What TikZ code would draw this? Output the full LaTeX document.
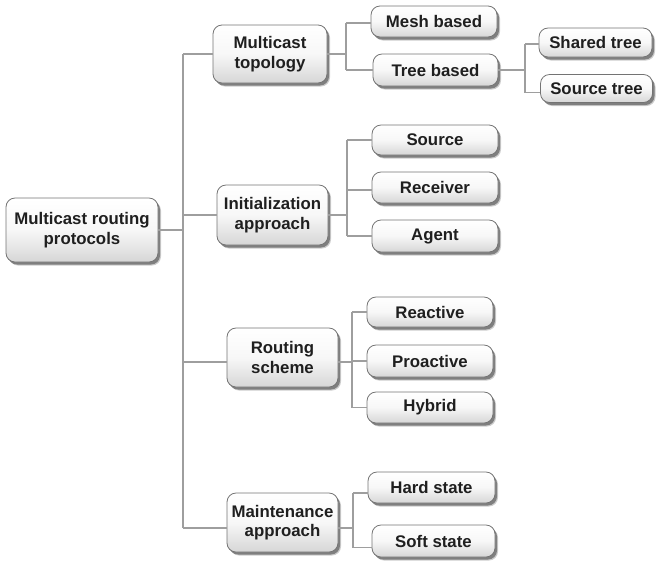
\documentclass[tikz,border=0pt]{standalone}
\usepackage{fontspec}
\setmainfont{Liberation Sans}
\usetikzlibrary{shadows,calc}
\begin{document}
\begin{tikzpicture}[x=1pt,y=-1pt,
  box/.style={draw=black!55, line width=0.8pt, rounded corners=9pt,
    top color=white, bottom color=black!16, middle color=black!3, align=center, inner sep=0pt,
    text=black!88,
    font=\bfseries\fontsize{16.8}{19.5}\selectfont,
    general shadow={shadow xshift=3pt, shadow yshift=-3.5pt, fill=black!40, opacity=0.5},
    drop shadow={shadow xshift=2pt, shadow yshift=-2.5pt, fill=black!70, opacity=0.6}},
  conn/.style={draw=black!38, line width=1.6pt}]
\useasboundingbox (0,0) rectangle (658,566);
% nodes
\node[box, minimum width=152pt, minimum height=64pt] (root) at (82,230) {Multicast routing\\protocols};
\node[box, minimum width=114pt, minimum height=58pt] (topo) at (270,54) {Multicast\\topology};
\node[box, minimum width=111pt, minimum height=60pt] (init) at (272.5,215) {Initialization\\approach};
\node[box, minimum width=111pt, minimum height=59pt] (rout) at (282.5,357.5) {Routing\\scheme};
\node[box, minimum width=111pt, minimum height=59pt] (maint) at (282.5,522.5) {Maintenance\\approach};
\node[box, minimum width=126pt, minimum height=31pt] (mesh) at (434,21.5) {Mesh based};
\node[box, minimum width=125pt, minimum height=32pt] (tree) at (435.5,70) {Tree based};
\node[box, minimum width=113pt, minimum height=29pt] (shared) at (595.5,42.5) {Shared tree};
\node[box, minimum width=112pt, minimum height=28pt] (srctree) at (596.5,88.5) {Source tree};
\node[box, minimum width=126pt, minimum height=30pt] (source) at (435,140) {Source};
\node[box, minimum width=126pt, minimum height=31pt] (receiver) at (435,187.5) {Receiver};
\node[box, minimum width=126pt, minimum height=32pt] (agent) at (435,236) {Agent};
\node[box, minimum width=126pt, minimum height=30pt] (reactive) at (430,312) {Reactive};
\node[box, minimum width=126pt, minimum height=32pt] (proactive) at (430,361) {Proactive};
\node[box, minimum width=126pt, minimum height=31pt] (hybrid) at (430,407.5) {Hybrid};
\node[box, minimum width=127pt, minimum height=31pt] (hard) at (431.5,487.5) {Hard state};
\node[box, minimum width=123pt, minimum height=32pt] (soft) at (433.5,541) {Soft state};
% connection points
\coordinate (T) at (183,0);
\coordinate (T1) at (346,0);
\coordinate (T2) at (525,0);
\coordinate (T3) at (347,0);
\coordinate (T4) at (352,0);
\coordinate (T5) at (353,0);
\coordinate (rw) at ($(rout.west)+(0,4.5)$);
\coordinate (mw) at ($(maint.west)+(0,5.5)$);
\coordinate (re) at ($(rout.east)+(0,4.5)$);
\coordinate (me) at ($(maint.east)+(0,5.5)$);
\coordinate (hw) at ($(hard.west)+(0,5.5)$);
\coordinate (sw) at ($(soft.west)+(0,6.5)$);
\coordinate (stw) at ($(srctree.west)+(0,4)$);
\coordinate (shw) at ($(shared.west)+(0,1.5)$);
\coordinate (mbw) at ($(mesh.west)+(0,1.5)$);
\coordinate (rcw) at ($(receiver.west)+(0,2.5)$);
% level 1
\draw[conn] (root.east) -- (T |- root.east);
\draw[conn] (T |- topo.west) -- (T |- mw);
\draw[conn] (T |- topo.west) -- (topo.west);
\draw[conn] (T |- init.west) -- (init.west);
\draw[conn] (T |- rw) -- (rw);
\draw[conn] (T |- mw) -- (mw);
% topology
\draw[conn] (topo.east) -- (T1 |- topo.east);
\draw[conn] (T1 |- mbw) -- (T1 |- tree.west);
\draw[conn] (T1 |- mbw) -- (mbw);
\draw[conn] (T1 |- tree.west) -- (tree.west);
\draw[conn] (tree.east) -- (T2 |- tree.east);
\draw[conn] (T2 |- shw) -- (T2 |- stw);
\draw[conn] (T2 |- shw) -- (shw);
\draw[conn] (T2 |- stw) -- (stw);
% initialization
\draw[conn] (init.east) -- (T3 |- init.east);
\draw[conn] (T3 |- source.west) -- (T3 |- agent.west);
\draw[conn] (T3 |- source.west) -- (source.west);
\draw[conn] (T3 |- rcw) -- (rcw);
\draw[conn] (T3 |- agent.west) -- (agent.west);
% routing
\draw[conn] (re) -- (T4 |- re);
\draw[conn] (T4 |- reactive.west) -- (T4 |- hybrid.west);
\draw[conn] (T4 |- reactive.west) -- (reactive.west);
\draw[conn] (T4 |- proactive.west) -- (proactive.west);
\draw[conn] (T4 |- hybrid.west) -- (hybrid.west);
% maintenance
\draw[conn] (me) -- (T5 |- me);
\draw[conn] (T5 |- hw) -- (T5 |- sw);
\draw[conn] (T5 |- hw) -- (hw);
\draw[conn] (T5 |- sw) -- (sw);
\end{tikzpicture}
\end{document}
